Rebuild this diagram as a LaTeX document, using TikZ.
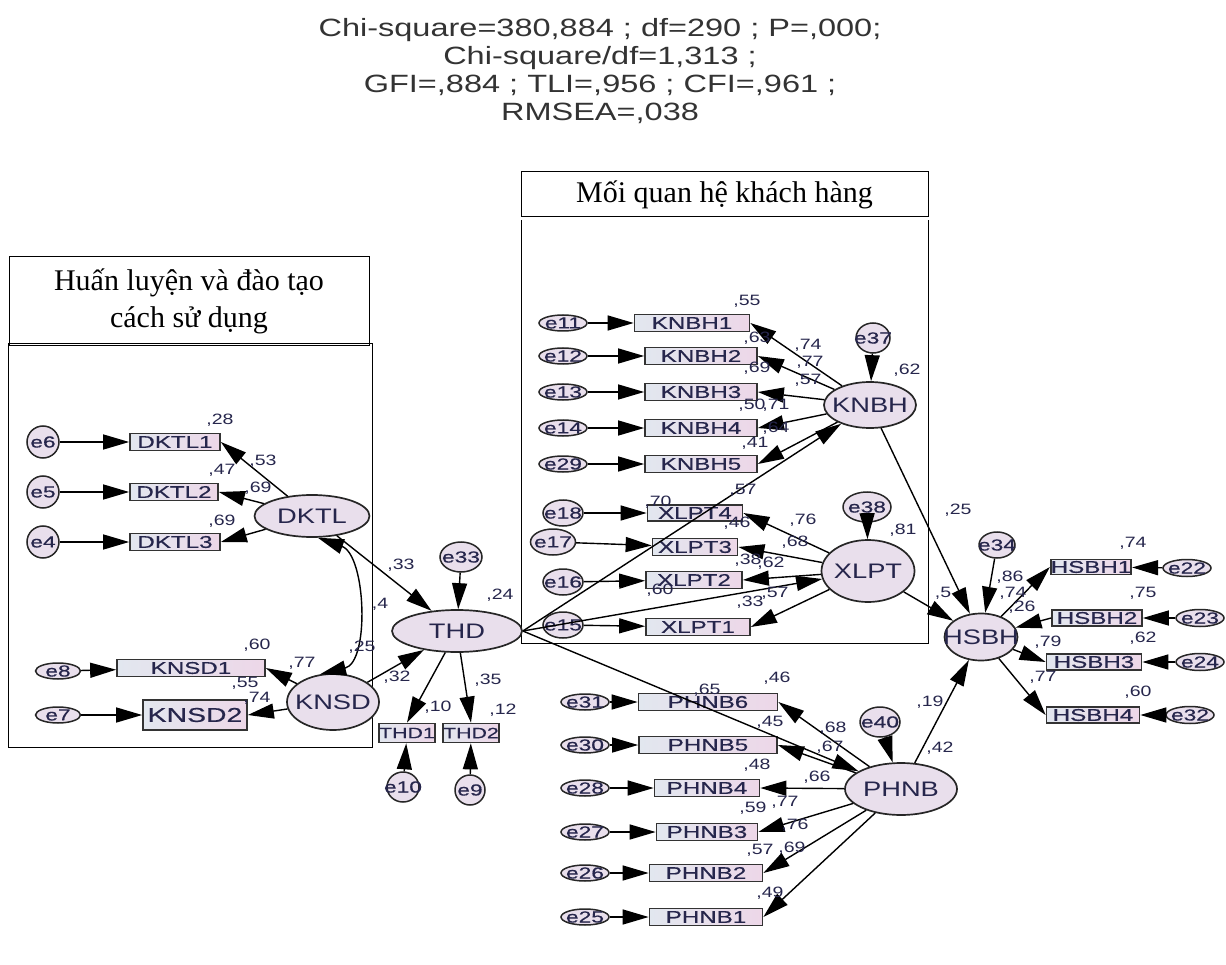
\documentclass[tikz,border=0pt]{standalone}
\usepackage{fontspec}
\setmainfont{Liberation Serif}
\newfontfamily\amos[FakeStretch=1.3]{Liberation Sans}
\newfontfamily\amosbox[FakeStretch=1.42,FakeBold=0.5]{Liberation Sans}
\usetikzlibrary{shapes.geometric,arrows.meta}
\definecolor{ink}{HTML}{26264C}
\definecolor{latfill}{HTML}{E9DFEC}
\definecolor{boxl}{HTML}{E2E7EF}
\definecolor{boxr}{HTML}{EDD7E8}

\begin{document}
\begin{tikzpicture}[x=1pt,y=-1pt,
  lat/.style={ellipse,draw=black!85,line width=1.7pt,fill=latfill,inner sep=0pt,
    label={[font=\amos\fontsize{21}{21}\selectfont,text=ink]center:#1}},
  err/.style={ellipse,draw=black!85,line width=1.5pt,fill=latfill,inner sep=0pt,
    label={[font=\amosbox\fontsize{16}{16}\selectfont,text=ink]center:#1}},
  ind/.style={rectangle,draw=black!80,line width=1.7pt,left color=boxl,right color=boxr,
    inner sep=0pt,minimum height=17pt,font=\amosbox\fontsize{17}{17}\selectfont,text=ink},
  arr/.style={-{Triangle[length=26pt,width=15pt]},line width=1.4pt},
  coef/.style={font=\amos\fontsize{15}{15}\selectfont,text=ink,inner sep=0pt},
  hdr/.style={draw,line width=1pt,font=\fontsize{30}{37}\selectfont,align=center,inner sep=0pt}]
  \useasboundingbox (0,0) rectangle (1226,965);

  % fit indices
  \node[font=\amos\fontsize{25}{25}\selectfont,text=black!80,anchor=base] (fit1) at (600,37) {Chi-square=380,884 ; df=290 ; P=,000;};
  \node[font=\amos\fontsize{25}{25}\selectfont,text=black!80,anchor=base] (fit2) at (600,65) {Chi-square/df=1,313 ;};
  \node[font=\amos\fontsize{25}{25}\selectfont,text=black!80,anchor=base] (fit3) at (600,93) {GFI=,884 ; TLI=,956 ; CFI=,961 ;};
  \node[font=\amos\fontsize{25}{25}\selectfont,text=black!80,anchor=base] (fit4) at (600,121) {RMSEA=,038};

  % group frames
  \node[hdr,minimum width=360pt,minimum height=89pt] (hdrHL) at (189,301) {Huấn luyện và đào tạo\\cách sử dụng};
  \draw[line width=1pt] (8,344) rectangle (372,747);
  \node[hdr,minimum width=407pt,minimum height=45pt] (hdrQH) at (724.5,194.5) {Mối quan hệ khách hàng};
  \draw[line width=1pt] (521,220) -- (521,643) -- (928,643) -- (928,220);

  % DKTL
  \node[lat=DKTL,minimum width=115pt,minimum height=42pt] (DKTL) at (312,516) {};
  \node[ind,minimum width=90pt] (DKTL1) at (175,442) {DKTL1};
  \node[ind,minimum width=88pt] (DKTL2) at (174,492) {DKTL2};
  \node[ind,minimum width=90pt] (DKTL3) at (175,542) {DKTL3};
  \node[err=e6,minimum width=32pt,minimum height=32pt] (e6) at (43,442) {};
  \node[err=e5,minimum width=32pt,minimum height=32pt] (e5) at (43,492) {};
  \node[err=e4,minimum width=32pt,minimum height=32pt] (e4) at (43,542) {};

  % KNSD
  \node[lat=KNSD,minimum width=92pt,minimum height=56pt] (KNSD) at (333,702) {};
  \node[ind,minimum width=148pt] (KNSD1) at (191,668) {KNSD1};
  \node[ind,minimum width=104pt,minimum height=30pt,font=\amosbox\fontsize{20}{20}\selectfont] (KNSD2) at (195,715) {KNSD2};
  \node[err=e8,minimum width=45pt,minimum height=16pt] (e8) at (58,671) {};
  \node[err=e7,minimum width=45pt,minimum height=16pt] (e7) at (58,715) {};

  % THD
  \node[lat=THD,minimum width=130pt,minimum height=42pt] (THD) at (457,631) {};
  \node[err=e33,minimum width=42pt,minimum height=30pt] (e33) at (461,557) {};
  \node[ind,minimum width=50pt,minimum height=19pt,font=\amosbox\fontsize{15}{15}\selectfont] (THD1) at (407,733) {THD1};
  \node[ind,minimum width=52pt,minimum height=19pt,font=\amosbox\fontsize{15}{15}\selectfont] (THD2) at (471,733) {THD2};
  \node[err=e10,minimum width=32pt,minimum height=30pt] (e10) at (403,787) {};
  \node[err=e9,minimum width=30pt,minimum height=30pt] (e9) at (470,790) {};

  % KNBH
  \node[lat=KNBH,minimum width=92pt,minimum height=46pt] (KNBH) at (870,405) {};
  \node[err=e37,minimum width=34pt,minimum height=30pt] (e37) at (873,338) {};
  \node[ind,minimum width=115pt] (KNBH1) at (692,323) {KNBH1};
  \node[ind,minimum width=112pt] (KNBH2) at (701,356) {KNBH2};
  \node[ind,minimum width=112pt] (KNBH3) at (701,392) {KNBH3};
  \node[ind,minimum width=112pt] (KNBH4) at (701,428) {KNBH4};
  \node[ind,minimum width=112pt] (KNBH5) at (701,464) {KNBH5};
  \node[err=e11,minimum width=48pt,minimum height=16pt] (e11) at (563,323) {};
  \node[err=e12,minimum width=48pt,minimum height=16pt] (e12) at (563,356) {};
  \node[err=e13,minimum width=48pt,minimum height=16pt] (e13) at (563,392) {};
  \node[err=e14,minimum width=48pt,minimum height=16pt] (e14) at (563,428) {};
  \node[err=e29,minimum width=48pt,minimum height=16pt] (e29) at (563,464) {};

  % XLPT
  \node[lat=XLPT,minimum width=93pt,minimum height=62pt] (XLPT) at (868,571) {};
  \node[err=e38,minimum width=48pt,minimum height=30pt] (e38) at (867,507) {};
  \node[ind,minimum width=95pt,minimum height=16pt] (XLPT4) at (695,513) {XLPT4};
  \node[ind,minimum width=85pt] (XLPT3) at (695,547) {XLPT3};
  \node[ind,minimum width=96pt] (XLPT2) at (694,580) {XLPT2};
  \node[ind,minimum width=104pt] (XLPT1) at (698,627) {XLPT1};
  \node[err=e18,minimum width=40pt,minimum height=26pt] (e18) at (563,513) {};
  \node[err=e17,minimum width=45pt,minimum height=26pt] (e17) at (553,542) {};
  \node[err=e16,minimum width=40pt,minimum height=26pt] (e16) at (563,582) {};
  \node[err=e15,minimum width=40pt,minimum height=26pt] (e15) at (563,625) {};

  % PHNB
  \node[lat=PHNB,minimum width=112pt,minimum height=52pt] (PHNB) at (901,789) {};
  \node[err=e40,minimum width=40pt,minimum height=30pt] (e40) at (880,722) {};
  \node[ind,minimum width=139pt] (PHNB6) at (708,702) {PHNB6};
  \node[ind,minimum width=138pt] (PHNB5) at (708,745) {PHNB5};
  \node[ind,minimum width=105pt] (PHNB4) at (707,788) {PHNB4};
  \node[ind,minimum width=101pt] (PHNB3) at (707,832) {PHNB3};
  \node[ind,minimum width=113pt] (PHNB2) at (706,873) {PHNB2};
  \node[ind,minimum width=113pt] (PHNB1) at (706,917) {PHNB1};
  \node[err=e31,minimum width=48pt,minimum height=16pt] (e31) at (585,702) {};
  \node[err=e30,minimum width=48pt,minimum height=16pt] (e30) at (585,745) {};
  \node[err=e28,minimum width=48pt,minimum height=16pt] (e28) at (585,788) {};
  \node[err=e27,minimum width=48pt,minimum height=16pt] (e27) at (585,832) {};
  \node[err=e26,minimum width=48pt,minimum height=16pt] (e26) at (585,873) {};
  \node[err=e25,minimum width=48pt,minimum height=16pt] (e25) at (585,917) {};

  % HSBH
  \node[lat=HSBH,minimum width=73pt,minimum height=47pt] (HSBH) at (981,637) {};
  \node[err=e34,minimum width=36pt,minimum height=26pt] (e34) at (997,545) {};
  \node[ind,minimum width=78pt,minimum height=15pt] (HSBH1) at (1091,567) {HSBH1};
  \node[ind,minimum width=90pt,minimum height=16pt] (HSBH2) at (1097,618) {HSBH2};
  \node[ind,minimum width=95pt,minimum height=16pt] (HSBH3) at (1094,662) {HSBH3};
  \node[ind,minimum width=93pt,minimum height=16pt] (HSBH4) at (1093,715) {HSBH4};
  \node[err=e22,minimum width=48pt,minimum height=17pt] (e22) at (1187,568) {};
  \node[err=e23,minimum width=48pt,minimum height=17pt] (e23) at (1200,618) {};
  \node[err=e24,minimum width=48pt,minimum height=17pt] (e24) at (1200,662) {};
  \node[err=e32,minimum width=48pt,minimum height=17pt] (e32) at (1190,715) {};

  % error terms to indicators
  \foreach \e/\v in {e6/DKTL1,e5/DKTL2,e4/DKTL3,e8/KNSD1,e7/KNSD2,e10/THD1,e9/THD2,
    e11/KNBH1,e12/KNBH2,e13/KNBH3,e14/KNBH4,e29/KNBH5,e18/XLPT4,e17/XLPT3,e16/XLPT2,e15/XLPT1,
    e31/PHNB6,e30/PHNB5,e28/PHNB4,e27/PHNB3,e26/PHNB2,e25/PHNB1,
    e22/HSBH1,e23/HSBH2,e24/HSBH3,e32/HSBH4}
    \draw[arr] (\e) -- (\v);
  % loadings
  \foreach \f/\v in {DKTL/DKTL1,DKTL/DKTL2,DKTL/DKTL3,KNSD/KNSD1,KNSD/KNSD2,
    KNBH/KNBH1,KNBH/KNBH2,KNBH/KNBH3,KNBH/KNBH4,KNBH/KNBH5,
    XLPT/XLPT4,XLPT/XLPT3,XLPT/XLPT2,XLPT/XLPT1,
    PHNB/PHNB6,PHNB/PHNB5,PHNB/PHNB4,PHNB/PHNB3,PHNB/PHNB2,PHNB/PHNB1}
    \draw[arr] (\f) -- (\v.east);
  \draw[arr] (THD) -- (THD1.north);
  \draw[arr] (THD) -- (THD2.north);
  \draw[arr] (HSBH) -- (HSBH1.west);
  \draw[arr] (HSBH2.west) -- (HSBH);
  \draw[arr] (HSBH) -- (HSBH3.west);
  \draw[arr] (HSBH) -- (HSBH4.west);
  % structural paths
  \draw[arr] (DKTL) -- (THD);
  \draw[arr] (KNSD) -- (THD);
  \draw[arr] (THD.east) -- (KNBH);
  \draw[arr] (THD.east) -- (XLPT);
  \draw[arr] (THD.east) -- (PHNB);
  \draw[arr] (KNBH) -- (HSBH);
  \draw[arr] (XLPT) -- (HSBH);
  \draw[arr] (PHNB) -- (HSBH);
  \draw[arr] (e33) -- (THD);
  \draw[arr] (e37) -- (KNBH);
  \draw[arr] (e38) -- (XLPT);
  \draw[arr] (e40) -- (PHNB);
  \draw[arr] (e34) -- (HSBH);
  \draw[{Triangle[length=26pt,width=15pt]}-{Triangle[length=26pt,width=15pt]},line width=1.4pt]
    (DKTL.285) .. controls (366,555) and (370,662) .. (KNSD.115);

  % estimates
  \foreach \px/\py/\v [count=\i] in {220/420/{,28},263/461/{,53},222/470/{,47},258/488/{,69},222/521/{,69},
    401/565/{,33},380/604/{,4},362/647/{,25},257/645/{,60},302/663/{,77},245/683/{,55},257/698/{,74},
    500/595/{,24},397/677/{,32},438/707/{,10},488/680/{,35},503/710/{,12},
    747/301/{,55},757/338/{,63},808/345/{,74},810/362/{,77},757/368/{,69},808/380/{,57},
    752/405/{,50},776/405/{,71},776/428/{,64},755/443/{,41},907/370/{,62},
    743/490/{,57},658/502/{,70},803/520/{,76},737/523/{,46},795/542/{,68},748/560/{,38},771/563/{,62},
    660/590/{,60},775/593/{,57},750/602/{,33},903/530/{,81},
    777/678/{,46},707/690/{,65},770/722/{,45},833/728/{,68},830/747/{,67},757/765/{,48},817/777/{,66},
    753/808/{,59},785/802/{,77},795/825/{,76},760/850/{,57},792/848/{,69},770/893/{,49},
    930/702/{,19},940/748/{,42},
    958/510/{,25},1133/543/{,74},1143/593/{,75},1143/638/{,62},1138/692/{,60},1010/577/{,86},
    1013/593/{,74},1022/607/{,26},1048/642/{,79},1043/677/{,77},943/593/{,5}}
    \node[coef] (est\i) at (\px,\py) {\v};
\end{tikzpicture}
\end{document}
